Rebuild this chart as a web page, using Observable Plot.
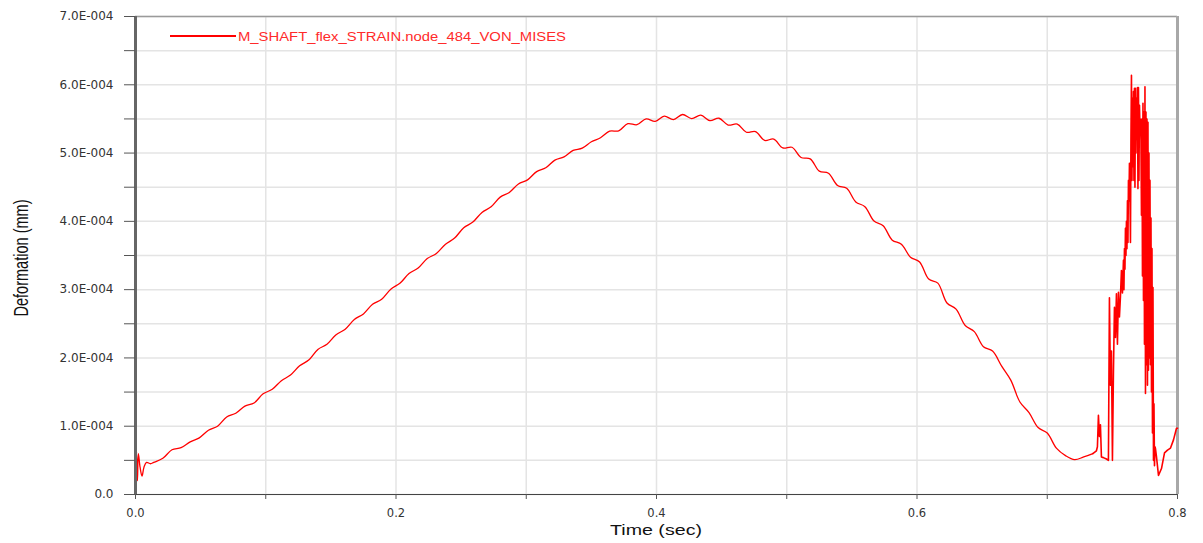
<!DOCTYPE html>
<html>
<head>
<meta charset="utf-8">
<script src="https://cdn.jsdelivr.net/npm/d3@7"></script>
<script src="https://cdn.jsdelivr.net/npm/@observablehq/plot@0.6"></script>
<style>
  html, body { margin: 0; padding: 0; background: #fff; }
  #chart { width: 1203px; height: 543px; }
</style>
</head>
<body>
<div id="chart"></div>
<script>
// ---------------- data (values in units of 1E-004 mm) ----------------
const seriesName = "M_SHAFT_flex_STRAIN.node_484_VON_MISES";
const xTitle = "Time (sec)";
const yTitle = "Deformation (mm)";

const timeSec = [
  0, 0.0008, 0.0015, 0.0022, 0.0035, 0.0050, 0.0065, 0.0085, 0.0115,
  0.014,0.021,0.028,0.035,0.042,0.049,0.056,0.063,0.070,0.077,
  0.084,0.091,0.098,0.105,0.112,0.119,0.126,0.133,0.140,0.147,
  0.154,0.161,0.168,0.175,0.182,0.189,0.196,0.203,0.210,0.217,
  0.224,0.231,0.238,0.245,0.252,0.259,0.266,0.273,0.280,0.287,
  0.294,0.301,0.308,0.315,0.322,0.329,0.336,0.343,0.350,0.357,
  0.364,0.371,0.378,0.385,0.392,0.399,0.406,0.413,0.420,0.427,
  0.434,0.441,0.448,0.455,0.462,0.469,0.476,0.483,0.490,0.497,
  0.504,0.511,0.518,0.525,0.532,0.539,0.546,0.553,0.560,0.567,
  0.574,0.581,0.588,0.595,0.602,0.609,0.616,0.623,0.630,0.637,
  0.644,0.651,0.658,0.665,0.672,0.679,0.686,0.693,0.700,0.707,
  0.714,0.721,0.728,0.735,
  0.73775,0.73852,0.73929,0.74006,0.74083,0.74159,0.74313,0.74544,0.74697,0.74774,
  0.74851,0.74928,0.75005,0.75082,0.75159,0.75236,0.75312,0.75389,0.75466,0.75543,
  0.75620,0.75696,0.75773,0.75850,0.75888,0.75927,0.75965,0.76004,0.76042,0.76080,
  0.76119,0.76157,0.76196,0.76234,0.76273,0.76311,0.76349,0.76388,0.76426,0.76465,
  0.76503,0.76542,0.76580,0.76618,0.76657,0.76695,0.76734,0.76772,0.76811,0.76849,
  0.76887,0.76926,0.76964,0.77003,0.77041,0.77080,0.77118,0.77156,0.77195,0.77233,
  0.77272,0.77310,0.77349,0.77387,0.77425,0.77464,0.77502,0.77541,0.77579,0.77618,
  0.77656,0.77695,0.77733,0.77771,0.77810,0.77848,0.77887,0.77925,0.77964,0.78002,
  0.78041,0.78079,0.78117,0.78156,0.78194,0.78233,0.78271,0.78310,0.78387,0.78540,
  0.78771,0.79002,0.79232,0.79463,0.79693,0.79924,0.8
];

const deformationE4 = [
  0, 0.62, 0.20, 0.60, 0.40, 0.27, 0.40, 0.47, 0.45,
  0.47,0.53,0.655,0.685,0.77,0.83,0.94,1.0,1.135,1.19,
  1.295,1.34,1.475,1.54,1.667,1.749,1.885,1.969,2.125,2.20,
  2.339,2.421,2.563,2.645,2.785,2.86,3.007,3.093,3.235,3.317,
  3.455,3.53,3.665,3.755,3.907,3.989,4.131,4.213,4.355,4.423,
  4.547,4.608,4.729,4.785,4.897,4.944,5.039,5.072,5.165,5.225,
  5.32,5.325,5.43,5.415,5.50,5.465,5.54,5.49,5.565,5.505,
  5.555,5.475,5.51,5.41,5.425,5.305,5.315,5.185,5.205,5.075,
  5.085,4.935,4.915,4.735,4.705,4.525,4.485,4.285,4.215,4.005,
  3.935,3.725,3.665,3.475,3.405,3.155,3.095,2.805,2.715,2.475,
  2.385,2.165,2.10,1.88,1.675,1.355,1.20,0.98,0.90,0.68,
  0.57,0.51,0.55,0.60,
  0.64,0.70,1.16,0.85,1.02,0.55,0.54,0.52,0.50,2.88,
  1.6,2.1,0.50,1.8,2.74,2.3,2.94,2.2,2.96,2.6,
  2.9,3.28,2.95,3.43,3.0,3.6,3.3,3.9,3.5,4.0,
  3.6,4.3,3.69,4.6,4.3,4.85,4.4,3.69,5.2,6.14,
  4.6,5.8,4.8,5.9,4.6,5.95,4.5,5.95,5.0,5.8,
  5.2,5.96,4.48,5.96,4.6,5.7,5.37,5.5,5.2,4.09,
  5.5,3.2,5.73,2.84,5.6,2.2,5.97,1.48,5.6,1.9,
  5.5,1.6,5.45,1.82,5.0,2.0,4.6,1.9,4.05,1.5,
  3.6,0.9,3.03,0.5,1.33,0.42,0.7,0.67,0.55,0.28,
  0.38,0.61,0.65,0.68,0.80,0.97,0.97
];

const smoothEnd = 0.735; // after this the signal is noisy (drawn without smoothing)

const yTicks = [0,0.5,1,1.5,2,2.5,3,3.5,4,4.5,5,5.5,6,6.5,7];
const yTickLabels = ["0.0","","1.0E-004","","2.0E-004","","3.0E-004","","4.0E-004","","5.0E-004","","6.0E-004","","7.0E-004"];
const xTicks = [0,0.1,0.2,0.3,0.4,0.5,0.6,0.7,0.8];
const xTickLabels = ["0.0","","0.2","","0.4","","0.6","","0.8"];

// ---------------- chart ----------------
const data = timeSec.map((t, i) => ({t, v: deformationE4[i]}));
const yLabelOf = new Map(yTicks.map((d, i) => [d, yTickLabels[i]]));
const xLabelOf = new Map(xTicks.map((d, i) => [d, xTickLabels[i]]));

const chart = Plot.plot({
  width: 1203,
  height: 543,
  marginLeft: 135,
  marginRight: 26,
  marginTop: 16,
  marginBottom: 49,
  style: {fontFamily: "DejaVu Sans", fontSize: "11.5px", color: "#333", background: "#fff"},
  x: {domain: [0, 0.8]},
  y: {domain: [0, 7]},
  marks: [
    Plot.gridX(xTicks, {stroke: "#e4e4e4", strokeOpacity: 1, strokeWidth: 1.5}),
    Plot.gridY(yTicks, {stroke: "#e4e4e4", strokeOpacity: 1, strokeWidth: 1.5}),
    Plot.ruleY([7], {stroke: "#9a9a9a", strokeWidth: 1.5}),
    Plot.ruleX([0.8], {stroke: "#a8a8a8", strokeWidth: 3}),
    Plot.line(data.filter(d => d.t <= smoothEnd), {x: "t", y: "v", stroke: "#ff0000", strokeWidth: 1.3, curve: "catmull-rom"}),
    Plot.line(data.filter(d => d.t >= smoothEnd), {x: "t", y: "v", stroke: "#ff0000", strokeWidth: 1.6}),
    Plot.ruleY([0], {stroke: "#444", strokeWidth: 1.2}),
    Plot.ruleX([0], {stroke: "#666", strokeWidth: 3}),
    Plot.axisY(yTicks, {tickSize: 11, tickPadding: 11, stroke: "#555", fill: "#333", fontSize: 12, tickFormat: d => yLabelOf.get(d), label: null}),
    Plot.axisX(xTicks, {tickSize: 5, tickPadding: 9, stroke: "#555", fill: "#333", tickFormat: d => xLabelOf.get(d), label: null})
  ]
});

const svg = d3.select(chart);
const xs = chart.scale("x"), ys = chart.scale("y");

// legend
svg.append("line")
  .attr("x1", 170).attr("x2", 236).attr("y1", 36).attr("y2", 36)
  .attr("stroke", "#ff0000").attr("stroke-width", 2);
svg.append("text")
  .attr("x", 238).attr("y", 40.5)
  .attr("text-anchor", "start")
  .attr("fill", "#ff2a2a")
  .attr("font-family", "Liberation Sans, Arial, sans-serif")
  .attr("font-size", 12)
  .attr("textLength", 328).attr("lengthAdjust", "spacingAndGlyphs")
  .text(seriesName);

// axis titles
svg.append("text")
  .attr("x", (xs.apply(0) + xs.apply(0.8)) / 2).attr("y", 535)
  .attr("text-anchor", "middle")
  .attr("fill", "#111")
  .attr("font-family", "Liberation Sans, Arial, sans-serif")
  .attr("font-size", 15)
  .attr("textLength", 92).attr("lengthAdjust", "spacingAndGlyphs")
  .text(xTitle);
svg.append("text")
  .attr("transform", `translate(28,${(ys.apply(0) + ys.apply(7)) / 2 + 3}) rotate(-90)`)
  .attr("text-anchor", "middle")
  .attr("fill", "#111")
  .attr("font-family", "Liberation Sans, Arial, sans-serif")
  .attr("font-size", 20)
  .attr("textLength", 117).attr("lengthAdjust", "spacingAndGlyphs")
  .text(yTitle);

document.getElementById("chart").appendChild(chart);
</script>
</body>
</html>
